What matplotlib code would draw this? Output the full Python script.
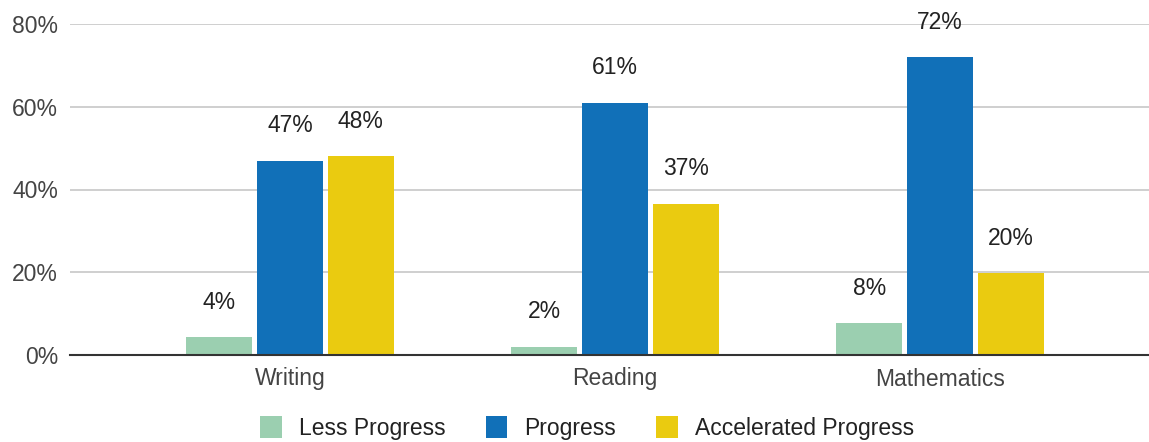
import matplotlib.pyplot as plt
import numpy as np

# Données
categories = ["Writing", "Reading", "Mathematics"]
series = ["Less Progress", "Progress", "Accelerated Progress"]
less_progress = [4.3, 2.0, 7.7]
progress = [47.0, 61.0, 72.0]
accelerated = [48.0, 36.6, 19.8]
labels = [["4%", "2%", "8%"], ["47%", "61%", "72%"], ["48%", "37%", "20%"]]

colors = ["#9bcfb0", "#1170b8", "#eacb10"]
values = [less_progress, progress, accelerated]

plt.rcParams['font.family'] = ['Liberation Sans', 'DejaVu Sans']

fig = plt.figure(figsize=(11.49, 4.42), dpi=100)
ax = fig.add_axes([70 / 1149, 87 / 442, 1079 / 1149, 331 / 442])

x = np.arange(len(categories))
width = 0.203
step = 0.218

for i, (vals, col, name) in enumerate(zip(values, colors, series)):
    pos = x + (i - 1) * step
    ax.bar(pos, vals, width=width, color=col, label=name, zorder=3)
    for p, v, lab in zip(pos, vals, labels[i]):
        ax.annotate(lab, (p, v), xytext=(0, 25.2), textcoords="offset points",
                    ha="center", va="center", fontsize=16.5, color="#222222")

ax.set_xlim(-0.677, 2.643)
ax.set_ylim(0, 80)
ax.set_yticks([0, 20, 40, 60, 80])
ax.set_yticklabels(["0%", "20%", "40%", "60%", "80%"])
ax.set_xticks(x)
ax.set_xticklabels(categories)
ax.tick_params(axis="both", length=0, labelsize=16.5, colors="#444444")
ax.tick_params(axis="x", pad=9)
ax.tick_params(axis="y", pad=8.5)

ax.grid(axis="y", color="#cccccc", linewidth=1.3, zorder=0)
for s in ["top", "right", "left"]:
    ax.spines[s].set_visible(False)
ax.spines["bottom"].set_color("#333333")
ax.spines["bottom"].set_linewidth(1.5)
ax.spines["bottom"].set_zorder(4)

fig.legend(loc="center", bbox_to_anchor=(0.511, 1 - 428 / 442), ncol=3, frameon=False,
           fontsize=16.5, handlelength=0.95, handleheight=1.05, columnspacing=1.75,
           handletextpad=0.75, labelcolor="#222222")

plt.savefig("out.png")
